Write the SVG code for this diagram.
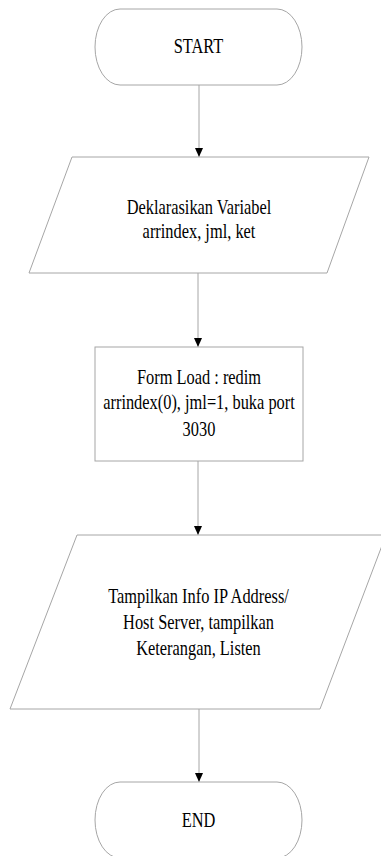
<svg xmlns="http://www.w3.org/2000/svg" width="381" height="856" viewBox="0 0 381 856">
  <style>
    .shape { fill: #ffffff; stroke: #a6a6a6; stroke-width: 1; }
    .edge { fill: none; stroke: #a6a6a6; stroke-width: 1; }
    .label { font-family: "Liberation Serif", "Times New Roman", serif; font-size: 21px; fill: #000000; text-anchor: middle; }
  </style>
  <defs>
    <marker id="arrow" markerUnits="userSpaceOnUse" markerWidth="9" markerHeight="10" refX="9" refY="4" orient="auto">
      <path d="M0,0 L9,4 L0,8 z" fill="#000000"/>
    </marker>
  </defs>
  <rect width="381" height="856" fill="#ffffff"/>

  <!-- connectors -->
  <g id="connectors">
    <line class="edge" x1="199" y1="85" x2="199" y2="157" marker-end="url(#arrow)"/>
    <line class="edge" x1="198" y1="273" x2="198" y2="347" marker-end="url(#arrow)"/>
    <line class="edge" x1="198" y1="461" x2="198" y2="535" marker-end="url(#arrow)"/>
    <line class="edge" x1="199" y1="709" x2="199" y2="782" marker-end="url(#arrow)"/>
  </g>

  <!-- terminal: start -->
  <g id="start">
    <rect class="shape" x="95" y="9" width="207" height="76" rx="25" ry="38"/>
    <text class="label" transform="translate(198.5 53) scale(0.78 1)">START</text>
  </g>

  <!-- input: variable declaration -->
  <g id="declare">
    <polygon class="shape" points="72,157 369,157 327,273 29,273"/>
    <text class="label" transform="translate(199 214) scale(0.78 1)">Deklarasikan Variabel</text>
    <text class="label" transform="translate(199 238) scale(0.78 1)">arrindex, jml, ket</text>
  </g>

  <!-- process: form load -->
  <g id="formload">
    <rect class="shape" x="95" y="347" width="208" height="114"/>
    <text class="label" transform="translate(199 384) scale(0.78 1)">Form Load : redim</text>
    <text class="label" transform="translate(199 409) scale(0.78 1)">arrindex(0), jml=1, buka port</text>
    <text class="label" transform="translate(199 436) scale(0.78 1)">3030</text>
  </g>

  <!-- output: server info -->
  <g id="showinfo">
    <polygon class="shape" points="77,535 386,535 320,709 10,709"/>
    <text class="label" transform="translate(198.5 603) scale(0.78 1)">Tampilkan Info IP Address/</text>
    <text class="label" transform="translate(198.5 629) scale(0.78 1)">Host Server, tampilkan</text>
    <text class="label" transform="translate(198.5 655) scale(0.78 1)">Keterangan, Listen</text>
  </g>

  <!-- terminal: end -->
  <g id="end">
    <rect class="shape" x="95" y="782" width="207" height="76" rx="25" ry="38"/>
    <text class="label" transform="translate(198.5 827) scale(0.78 1)">END</text>
  </g>
</svg>
